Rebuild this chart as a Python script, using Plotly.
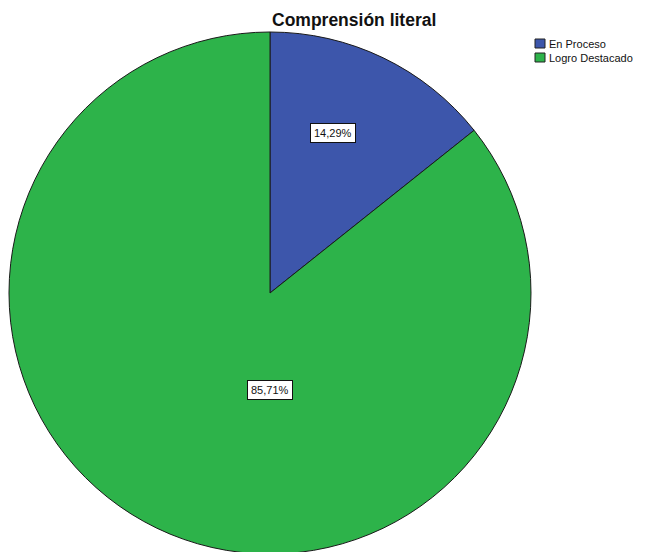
import math
import plotly.graph_objects as go

# ---- data ----
categories = ["En Proceso", "Logro Destacado"]
percentages = [14.29, 85.71]
text_labels = ["14,29%", "85,71%"]
title_text = "Comprensión literal"

# ---- styles ----
colors = ["#3D56AB", "#2DB34A"]
label_angle_deg = [21.5, 180.0]   # label direction (clockwise from 12 o'clock)
label_radius_frac = [0.66, 0.37]  # label distance as fraction of radius
W, H = 646, 552
OFF = 8  # page body margin offset
FONT = "Liberation Sans, Arial, sans-serif"

cx, cy, R = 270 - OFF, 293 - OFF, 261  # pie centre / radius in figure pixels
dom_x = [(cx - R) / W, (cx + R) / W]
dom_y = [1 - (cy + R) / H, 1 - (cy - R) / H]

fig = go.Figure(go.Pie(
    labels=categories,
    values=percentages,
    sort=False,
    direction="clockwise",
    rotation=0,
    marker=dict(colors=colors, line=dict(color="#1a1a1a", width=1)),
    textinfo="none",
    hoverinfo="label+percent",
    showlegend=False,
    domain=dict(x=dom_x, y=dom_y),
))

annotations = []
shapes = []
# slice value labels with white boxes
for txt, ang, frac in zip(text_labels, label_angle_deg, label_radius_frac):
    a = math.radians(ang)
    px = cx + math.sin(a) * R * frac
    py = cy - math.cos(a) * R * frac
    annotations.append(dict(
        x=px / W, y=1 - py / H, xref="paper", yref="paper",
        xanchor="center", yanchor="middle",
        text=txt, showarrow=False,
        font=dict(family=FONT, size=11, color="#111"),
        bgcolor="white", bordercolor="#111", borderwidth=1, borderpad=3,
    ))

# title
annotations.append(dict(
    x=(354 - OFF) / W, y=1 - (20 - OFF) / H, xref="paper", yref="paper",
    text="<b>" + title_text + "</b>", showarrow=False,
    font=dict(family=FONT, size=17.5, color="#111"),
    xanchor="center", yanchor="middle",
))

# manual legend
for i, (cat, col) in enumerate(zip(categories, colors)):
    top = 39 + i * 14 - OFF
    left = 535 - OFF
    shapes.append(dict(
        type="rect", xref="paper", yref="paper",
        x0=left / W, x1=(left + 10) / W, y0=1 - (top + 9) / H, y1=1 - top / H,
        fillcolor=col, line=dict(color="#222", width=1),
    ))
    annotations.append(dict(
        x=(left + 12) / W, y=1 - (top + 4.5) / H, xref="paper", yref="paper",
        text=cat, showarrow=False, xanchor="left", yanchor="middle",
        font=dict(family=FONT, size=11, color="#111"),
    ))

fig.update_layout(
    width=W, height=H,
    margin=dict(l=0, r=0, t=0, b=0),
    paper_bgcolor="white", plot_bgcolor="white",
    annotations=annotations, shapes=shapes,
)
fig.write_html("out.html")
